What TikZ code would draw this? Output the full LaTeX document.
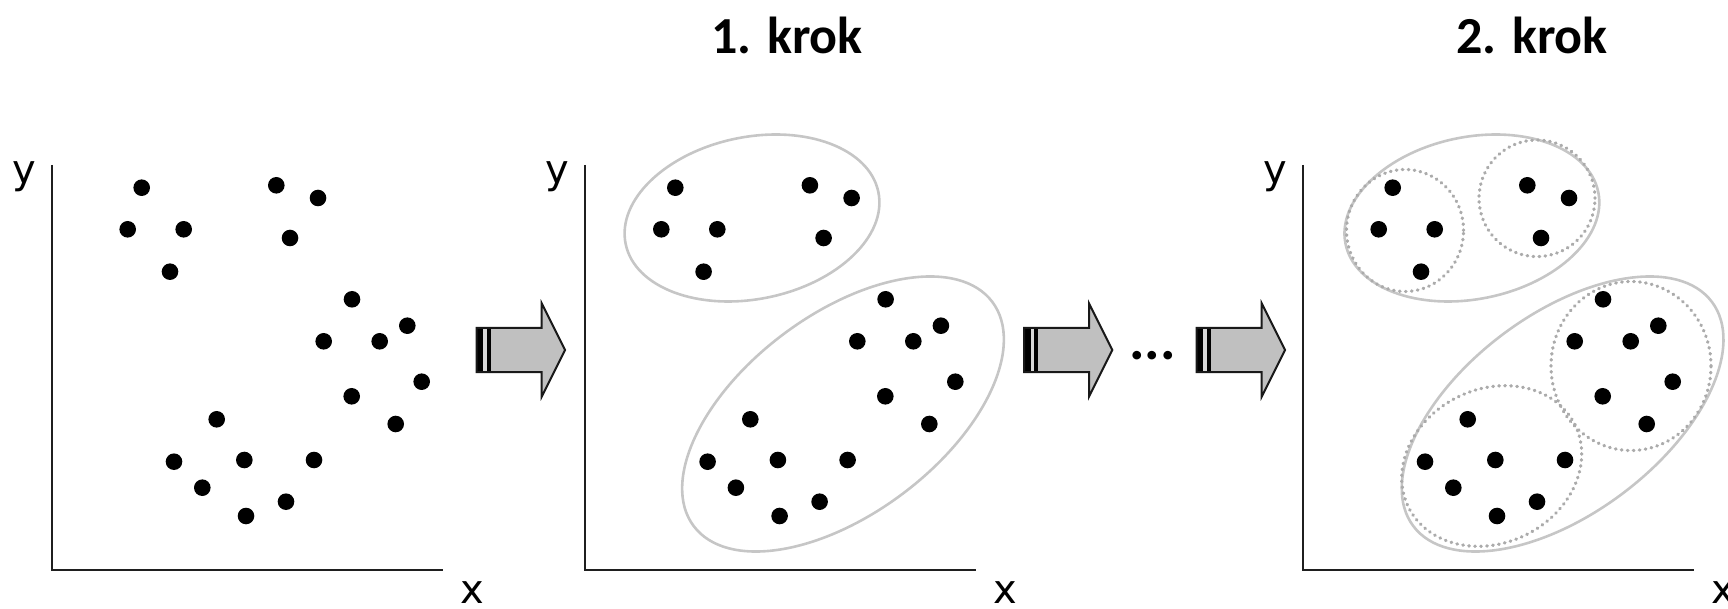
\documentclass[tikz,border=0pt]{standalone}
\usepackage{fontspec}
\setmainfont{Carlito}
\newfontfamily\axisfont{DejaVu Sans}
\definecolor{clustergray}{HTML}{C6C6C6}
\definecolor{subgray}{HTML}{ABABAB}
\definecolor{arrowfill}{HTML}{C0C0C0}
\definecolor{arrowlight}{HTML}{D8D8D8}
\tikzset{
  axisline/.style={line width=1.7pt, black!88, line join=miter},
  datapt/.style={fill=black},
  cluster/.style={draw=clustergray, line width=2.6pt},
  subcluster/.style={draw=subgray, line width=3.3pt, dash pattern=on 0.6pt off 5.4pt, line cap=round},
  axislabel/.style={font=\axisfont\fontsize{40}{40}\selectfont, anchor=base, inner sep=0pt},
  steptitle/.style={font=\bfseries\fontsize{52}{52}\selectfont, anchor=base, inner sep=0pt},
  blockarrow/.pic={
    \fill[arrowfill] (0,22.2) -- (65,22.2) -- (65,46.7) -- (88.3,0) -- (65,-46.7) -- (65,-22.2) -- (0,-22.2) -- cycle;
    \fill[black] (0,-22.2) rectangle (6.7,22.2);
    \fill[arrowlight] (6.7,-22.2) rectangle (10,22.2);
    \fill[black] (10,-22.2) rectangle (14.3,22.2);
    \draw[line width=2pt, line join=miter, black!90] (0,22.2) -- (65,22.2) -- (65,46.7) -- (88.3,0) -- (65,-46.7) -- (65,-22.2) -- (0,-22.2) -- cycle;
  }
}
\newcommand{\panelbase}{%
  \coordinate (ytop) at (51.7,443);
  \coordinate (origin) at (51.7,38);
  \coordinate (xend) at (442.7,38);
  \draw[axisline] (ytop) -- (origin) -- (xend);
  \node[axislabel] (ylab) at (24,424) {y};
  \node[axislabel] (xlab) at (472,5) {x};
  \foreach \px/\py in {141.7/420.3, 127.7/378.7, 183.7/378.7, 170/336.3, 276.3/422.7, 318/410, 290/370,
      352/308.7, 323.7/266.7, 379.7/266.7, 407.3/282.3, 421.7/226.3, 351.7/211.7, 395.7/184,
      216.7/188.7, 174/146.3, 244.3/148, 314/148, 202.3/120.3, 286/106.3, 246/92}
    {\fill[datapt] (\px,\py) circle[radius=8.3];}
}
\begin{document}
\begin{tikzpicture}[x=1pt,y=1pt]
\useasboundingbox (0,0) rectangle (1728,608);
% panel 1
\begin{scope}
  \panelbase
\end{scope}
% panel 2
\begin{scope}[xshift=533.6]
  \panelbase
  \draw[cluster, rotate around={11.6:(218.4,390)}] (218.4,390) ellipse[x radius=129, y radius=81];
  \draw[cluster, rotate around={36.9:(309.4,194)}] (309.4,194) ellipse[x radius=186.7, y radius=99.6];
\end{scope}
% panel 3
\begin{scope}[xshift=1251]
  \panelbase
  \draw[cluster, rotate around={11.6:(220.9,390)}] (220.9,390) ellipse[x radius=129, y radius=81];
  \draw[cluster, rotate around={36.9:(311.6,194)}] (311.6,194) ellipse[x radius=186.7, y radius=99.6];
\end{scope}
\draw[subcluster] (1405,377.5) ellipse[x radius=58.5, y radius=61];
\draw[subcluster] (1537,409.7) ellipse[x radius=58, y radius=58.3];
\draw[subcluster] (1631,242) ellipse[x radius=80, y radius=84.5];
\draw[subcluster, rotate around={26.4:(1491.7,142)}] (1491.7,142) ellipse[x radius=92.9, y radius=76.9];
% arrows
\pic at (476.7,258) {blockarrow};
\pic at (1024,258) {blockarrow};
\pic at (1196.7,258) {blockarrow};
\node[font=\bfseries\fontsize{58}{58}\selectfont, anchor=base, inner sep=0pt] (dots) at (1152.5,248) {...};
% titles
\node[steptitle] (t1) at (787,554.7) {1. krok};
\node[steptitle] (t2) at (1532,554.7) {2. krok};
\end{tikzpicture}
\end{document}
